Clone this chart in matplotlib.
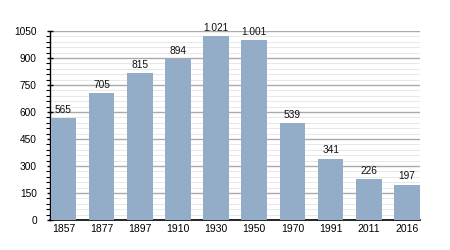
import matplotlib
matplotlib.use("Agg")
import matplotlib.pyplot as plt
from matplotlib.ticker import MultipleLocator

years = ["1857", "1877", "1897", "1910", "1930", "1950", "1970", "1991", "2011", "2016"]
population = [565, 705, 815, 894, 1021, 1001, 539, 341, 226, 197]

plt.rcParams['font.family'] = ['Liberation Sans', 'DejaVu Sans']

fig = plt.figure(figsize=(4.5, 2.5), dpi=100)
ax = fig.add_axes([50/450, 30/250, 370/450, 189/250])

x = list(range(len(years)))
ax.bar(x, population, width=0.67, color='#93acc8', zorder=3)

def fmt(v):
    return f"{v:,}".replace(",", ".")

for xi, v in zip(x, population):
    ax.text(xi, v + 18, fmt(v), ha='center', va='bottom', fontsize=7.3, color='#111111', zorder=4)

ax.set_xlim(-0.35, 9.34)
ax.set_ylim(0, 1050)
ax.yaxis.set_major_locator(MultipleLocator(150))
ax.yaxis.set_minor_locator(MultipleLocator(30))
ax.set_xticks(x)
ax.set_xticklabels(years)
ax.grid(axis='y', which='major', color='#aaaaaa', linewidth=1.0, zorder=0)
ax.grid(axis='y', which='minor', color='#e8e8e8', linewidth=0.7, zorder=0)
ax.set_axisbelow(True)

for s in ['top', 'right']:
    ax.spines[s].set_visible(False)
ax.spines['left'].set_color('black')
ax.spines['bottom'].set_color('black')
ax.spines['left'].set_linewidth(1.0)
ax.spines['bottom'].set_linewidth(1.2)

ax.tick_params(axis='y', which='major', length=5, width=1, direction='inout', labelsize=7.3, pad=7)
ax.tick_params(axis='y', which='minor', length=3, width=0.8, direction='out')
ax.tick_params(axis='x', length=0, labelsize=7.5, pad=3)

fig.savefig("out.png", dpi=100)
